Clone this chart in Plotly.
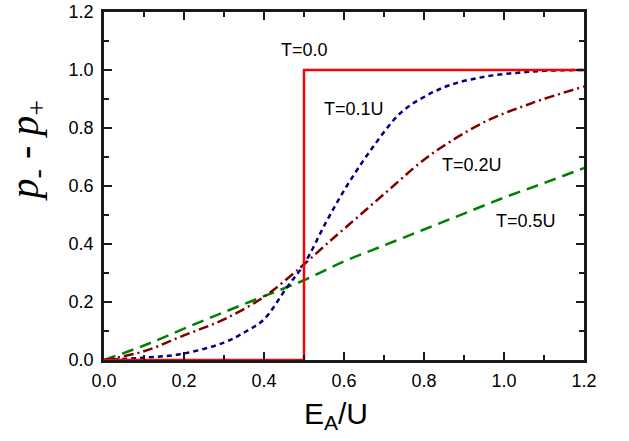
import plotly.graph_objects as go

# T = 0.0 (step)
x_t00 = [0.0, 0.5, 0.5, 1.2]
y_t00 = [0.0, 0.0, 1.0, 1.0]

# T = 0.1U
x_t01 = [0.0, 0.09, 0.19, 0.3, 0.357, 0.40, 0.457, 0.5, 0.557, 0.607, 0.665, 0.74, 0.80, 0.865, 0.948, 1.03, 1.1, 1.2]
y_t01 = [0.0, 0.007, 0.02, 0.06, 0.1, 0.14, 0.25, 0.33, 0.48, 0.6, 0.72, 0.85, 0.907, 0.948, 0.976, 0.99, 0.997, 1.0]

# T = 0.2U
x_t02 = [0.0, 0.1, 0.2, 0.3, 0.4, 0.475, 0.5, 0.565, 0.64, 0.715, 0.79, 0.84, 0.95, 1.07, 1.2]
y_t02 = [0.0, 0.03, 0.085, 0.14, 0.218, 0.30, 0.33, 0.41, 0.5, 0.59, 0.68, 0.73, 0.82, 0.886, 0.943]

# T = 0.5U
x_t05 = [0.0, 0.1, 0.2, 0.3, 0.4, 0.5, 0.6, 0.7, 0.8, 0.9, 1.0, 1.1, 1.2]
y_t05 = [0.0, 0.05, 0.108, 0.165, 0.22, 0.275, 0.34, 0.395, 0.45, 0.505, 0.56, 0.61, 0.662]

labels = ["T=0.0", "T=0.1U", "T=0.2U", "T=0.5U"]
label_x = [0.5, 0.625, 0.92, 1.055]
label_y = [1.069, 0.864, 0.672, 0.479]

major_ticks = [0.0, 0.2, 0.4, 0.6, 0.8, 1.0, 1.2]
major_text = ["0.0", "0.2", "0.4", "0.6", "0.8", "1.0", "1.2"]
minor_ticks = [0.1, 0.3, 0.5, 0.7, 0.9, 1.1]

AX_MIN, AX_MAX = 0.0, 1.2
FRAME = "#1a1a1a"

fig = go.Figure()
fig.add_trace(go.Scatter(x=x_t05, y=y_t05, mode="lines", line=dict(color="#008000", width=2.5, dash="12px,7px", shape="spline")))
fig.add_trace(go.Scatter(x=x_t02, y=y_t02, mode="lines", line=dict(color="#800000", width=2.5, dash="10px,4px,2px,4px", shape="spline")))
fig.add_trace(go.Scatter(x=x_t01, y=y_t01, mode="lines", line=dict(color="#000080", width=2.5, dash="5px,4px", shape="spline")))
fig.add_trace(go.Scatter(x=x_t00, y=y_t00, mode="lines", line=dict(color="#FF0000", width=2.5), cliponaxis=False))

for t, lx, ly in zip(labels, label_x, label_y):
    fig.add_annotation(x=lx, y=ly, text=t, showarrow=False, xanchor="center", yanchor="middle",
                       font=dict(family="Arial, Liberation Sans", size=18, color="#000000"))

label_font = dict(family="Arial, Liberation Sans", size=18, color="#000000")
axis_style = dict(range=[AX_MIN, AX_MAX], tickmode="array", tickvals=major_ticks, ticktext=major_text,
                  showline=True, linecolor=FRAME, linewidth=2.5, mirror="ticks",
                  ticks="inside", ticklen=8, tickwidth=2, tickcolor=FRAME,
                  showgrid=False, zeroline=False, tickfont=label_font,
                  minor=dict(tickmode="array", tickvals=minor_ticks, ticks="inside",
                             ticklen=5, tickwidth=2, tickcolor=FRAME, showgrid=False))

fig.update_layout(xaxis=dict(ticklabelstandoff=3, **axis_style),
                  yaxis=dict(ticklabelstandoff=4, **axis_style))

fig.add_annotation(xref="paper", yref="paper", x=0.483, y=-0.16, yanchor="middle", xanchor="center",
                   text="E<sub>A</sub>/U", showarrow=False,
                   font=dict(family="Arial, Liberation Sans", size=30, color="#000000"))
fig.add_annotation(xref="paper", yref="paper", x=-0.16, y=0.6, xanchor="center", yanchor="middle",
                   text="<i>p</i><sub>-</sub> - <i>p</i><sub>+</sub>", showarrow=False, textangle=-90,
                   font=dict(family="Liberation Serif, Times New Roman, serif", size=40, color="#000000"))

fig.update_layout(width=629, height=441, margin=dict(l=104, r=45, t=12, b=81, autoexpand=False),
                  paper_bgcolor="white", plot_bgcolor="white", showlegend=False)

fig.write_html("out.html", config={"displayModeBar": False},
               post_script="document.body.style.margin='0';document.body.style.overflow='hidden';")
